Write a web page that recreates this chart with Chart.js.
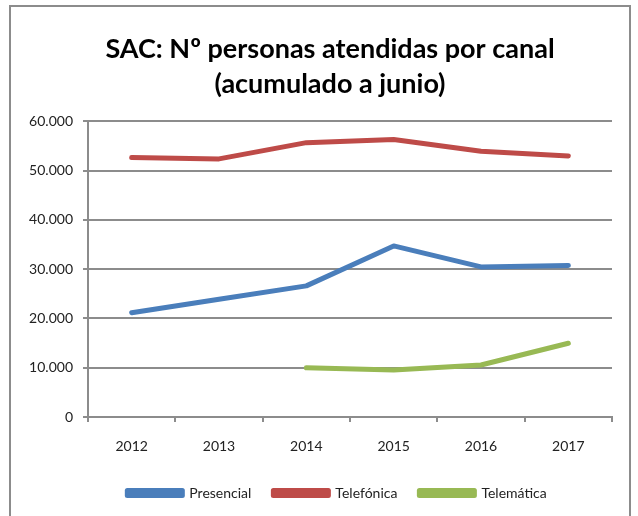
<!DOCTYPE html>
<html>
<head>
<meta charset="utf-8">
<script src="https://cdn.jsdelivr.net/npm/chart.js"></script>
<style>
  html, body { margin: 0; padding: 0; background: #fff; overflow: hidden; }
  #frame { position: absolute; left: 9px; top: 5px; width: 622px; height: 520px; border: 2px solid #8c8c8c; box-sizing: border-box; }
  #wrap { position: absolute; left: 0; top: 0; width: 638px; height: 516px; }
</style>
</head>
<body>
<div id="frame"></div>
<div id="wrap"><canvas id="chartCanal"></canvas></div>
<script>
// datos
const years = ["2012", "2013", "2014", "2015", "2016", "2017"];
const presencial = [21150, 23900, 26600, 34700, 30450, 30750];
const telefonica = [52650, 52350, 55650, 56300, 53900, 52950];
const telematica = [null, null, 10000, 9550, 10550, 14950];
const yTicks = [0, 10000, 20000, 30000, 40000, 50000, 60000];

const fontFamily = "Lato, 'Liberation Sans', sans-serif";
Chart.defaults.font.family = fontFamily;
Chart.defaults.color = "#222";

function miles(v) {
    return String(v).replace(/\B(?=(\d{3})+(?!\d))/g, ".");
}

// centra título y leyenda como en el original (algo a la derecha del lienzo)
const centrarBloques = {
    id: "centrarBloques",
    afterLayout(chart) {
        if (chart.titleBlock) chart.titleBlock.left = 48;
        if (chart.legend) chart.legend.left = 62;
    },
};

const ctx = document.getElementById("chartCanal").getContext("2d");

const lineStyle = {
    borderWidth: 5,
    pointRadius: 0,
    pointHoverRadius: 0,
    borderCapStyle: "round",
    borderJoinStyle: "round",
    tension: 0,
    fill: false,
};

const chartCanal = new Chart(ctx, {
    type: "line",
    data: {
        labels: years,
        datasets: [
            { label: "Presencial", data: presencial, borderColor: "#4a7ebb", backgroundColor: "#4a7ebb", ...lineStyle },
            { label: "Telefónica", data: telefonica, borderColor: "#be4b48", backgroundColor: "#be4b48", ...lineStyle },
            { label: "Telemática", data: telematica, borderColor: "#98b954", backgroundColor: "#98b954", ...lineStyle },
        ],
    },
    plugins: [centrarBloques],
    options: {
        responsive: true,
        maintainAspectRatio: false,
        animation: false,
        layout: { padding: { left: 10, right: 26, top: 32, bottom: 6 } },
        plugins: {
            title: {
                display: true,
                text: ["SAC: Nº personas atendidas por canal", "(acumulado a junio)"],
                font: { size: 27, weight: "bold", family: fontFamily, lineHeight: 1.3 },
                color: "#000",
                padding: { top: 0, bottom: 19 },
            },
            legend: {
                position: "bottom",
                labels: {
                    boxWidth: 55,
                    boxHeight: 5,
                    padding: 22,
                    font: { size: 14 },
                    color: "#222",
                },
            },
            tooltip: { enabled: false },
        },
        scales: {
            x: {
                offset: true,
                afterFit: (axis) => { axis.height = 47; },
                grid: { offset: true, drawOnChartArea: false, color: "#8c8c8c", lineWidth: 2, tickLength: 5 },
                border: { color: "#8c8c8c", width: 2 },
                ticks: { font: { size: 14 }, padding: 16, color: "#222" },
            },
            y: {
                min: 0,
                max: 60000,
                afterBuildTicks: (axis) => { axis.ticks = yTicks.map(v => ({ value: v })); },
                afterFit: (axis) => { axis.width = 78; },
                grid: { color: "#8c8c8c", lineWidth: 2, tickLength: 5 },
                border: { color: "#8c8c8c", width: 2 },
                ticks: { callback: (v) => miles(v), font: { size: 14 }, padding: 10, color: "#222" },
            },
        },
    },
});
</script>
</body>
</html>
